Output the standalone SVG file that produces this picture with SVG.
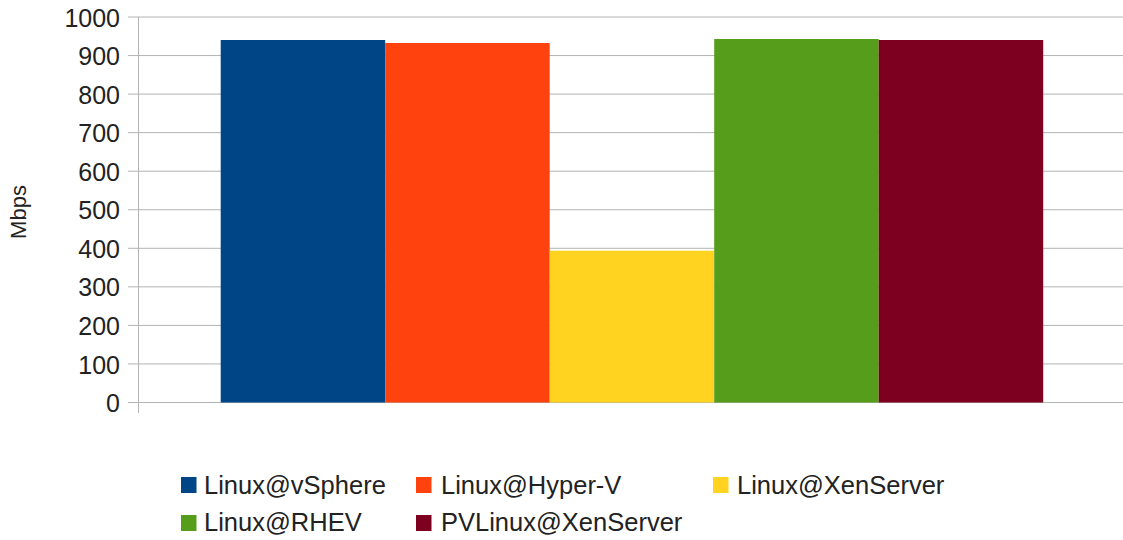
<svg xmlns="http://www.w3.org/2000/svg" width="1123" height="540" viewBox="0 0 1123 540">
<style>
.grid{stroke:#b3b3b3;stroke-width:1;fill:none}
.lbl{font-family:"Liberation Sans",Arial,sans-serif;font-size:25px;fill:#222}
.tick{text-anchor:end}
.leg text{font-size:25.5px}
</style>
<rect width="1123" height="540" fill="#fff"/>
<g id="grid">
<path class="grid" d="M128 17H1123M128 55.55H1123M128 94.1H1123M128 132.65H1123M128 171.2H1123M128 209.75H1123M128 248.3H1123M128 286.85H1123M128 325.4H1123M128 363.95H1123M128 402.5H1123"/>
<path class="grid" d="M138.5 17V413"/>
</g>
<g id="yaxis-labels" class="lbl tick">
<text x="120" y="26.5">1000</text>
<text x="120" y="65">900</text>
<text x="120" y="103.6">800</text>
<text x="120" y="142.2">700</text>
<text x="120" y="180.7">600</text>
<text x="120" y="219.3">500</text>
<text x="120" y="257.8">400</text>
<text x="120" y="296.4">300</text>
<text x="120" y="334.9">200</text>
<text x="120" y="373.5">100</text>
<text x="120" y="412">0</text>
</g>
<text id="ytitle" class="lbl" style="font-size:22px" text-anchor="middle" transform="translate(26 212) rotate(-90)">Mbps</text>
<g id="bars">
<rect id="bar-vsphere" x="220.7" y="40" width="164.5" height="362.5" fill="#004586"/>
<rect id="bar-hyperv" x="385.2" y="43" width="164.5" height="359.5" fill="#ff420e"/>
<rect id="bar-xenserver" x="549.7" y="250.7" width="164.5" height="151.8" fill="#ffd320"/>
<rect id="bar-rhev" x="714.2" y="39" width="164.5" height="363.5" fill="#579d1c"/>
<rect id="bar-pvxen" x="878.7" y="40" width="164.5" height="362.5" fill="#7e0021"/>
</g>
<g id="legend" class="lbl leg">
<g id="leg-vsphere"><rect x="181" y="477" width="15.5" height="16" fill="#004586"/><text x="204" y="494">Linux@vSphere</text></g>
<g id="leg-hyperv"><rect x="416" y="477" width="15.5" height="16" fill="#ff420e"/><text x="441" y="494">Linux@Hyper-V</text></g>
<g id="leg-xen"><rect x="713" y="477" width="15.5" height="16" fill="#ffd320"/><text x="737" y="494">Linux@XenServer</text></g>
<g id="leg-rhev"><rect x="181" y="515" width="15.5" height="16" fill="#579d1c"/><text x="204" y="531">Linux@RHEV</text></g>
<g id="leg-pvxen"><rect x="416" y="515" width="15.5" height="16" fill="#7e0021"/><text x="441" y="531">PVLinux@XenServer</text></g>
</g>
</svg>
